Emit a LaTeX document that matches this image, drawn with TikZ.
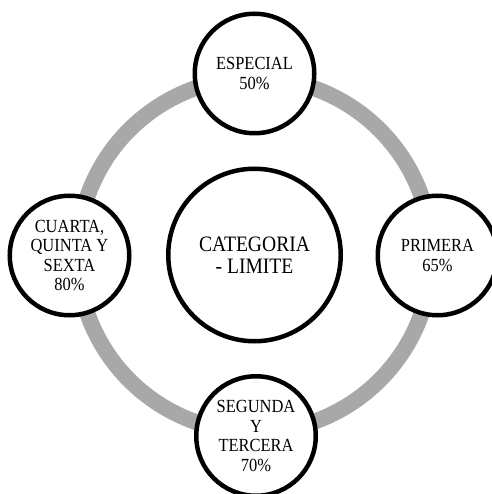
\documentclass[tikz,border=0pt]{standalone}
\usepackage{fontspec}
\setmainfont{Liberation Serif}[FakeStretch=0.89]
\definecolor{ringgray}{RGB}{168,168,168}
\tikzset{
  smallcirc/.style={circle, draw=black, line width=4.5pt, fill=white, minimum size=119.5pt, inner sep=0pt, align=center, font=\fontsize{18.5}{19.6}\selectfont},
  bigcirc/.style={circle, draw=black, line width=4.5pt, fill=white, minimum size=172.5pt, inner sep=0pt, align=center, font=\fontsize{22}{22}\selectfont},
  ring/.style={draw=ringgray, line width=16pt}
}
\begin{document}
\begin{tikzpicture}[x=1pt,y=-1pt]
\useasboundingbox (0,0) rectangle (491,494);
\draw[ring] (254.5,255) circle[radius=177];
\node[bigcirc] (center) at (254.5,255) {CATEGORIA\\- LIMITE};
\node[smallcirc] (esp) at (254.5,73.5) {ESPECIAL\\50\%};
\node[smallcirc] (pri) at (437.5,255.5) {PRIMERA\\65\%};
\node[smallcirc] (seg) at (256,436) {SEGUNDA\\Y\\TERCERA\\70\%};
\node[smallcirc] (cua) at (69.5,255.5) {CUARTA,\\QUINTA Y\\SEXTA\\80\%};
\end{tikzpicture}
\end{document}
